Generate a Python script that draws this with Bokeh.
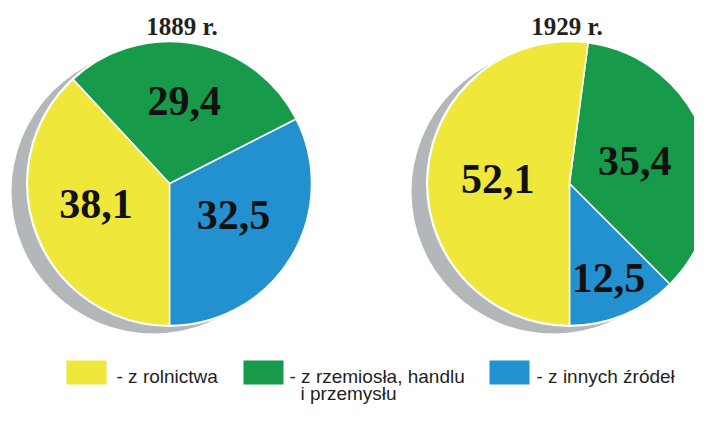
import numpy as np
from bokeh.plotting import figure
from bokeh.models import Range1d, ColumnDataSource
from bokeh.core.properties import value
from bokeh.embed import file_html
from bokeh.resources import INLINE

# ---------------- data ----------------
categories = ["- z rolnictwa", "- z rzemiosła, handlu", "- z innych źródeł"]
category_line2 = ["", "i przemysłu", ""]
colors = ["#EFE83A", "#179B4A", "#2390D0"]
years = ["1889 r.", "1929 r."]
values_1889 = [38.1, 29.4, 32.5]
values_1929 = [52.1, 35.4, 12.5]
label_texts_1889 = ["38,1", "29,4", "32,5"]
label_texts_1929 = ["52,1", "35,4", "12,5"]

# ---------------- layout (pixels of the 710x421 picture) ----------------
W, H = 694, 405
BASELINE_FIX = 7  # svg alphabetic baseline renders ~7px low
def X(px):
    return px
def Y(py):
    return 421 - py

centers = [(169, 183), (569, 183)]
radius = 142
shadow_dx, shadow_dy = -16, 8
label_r = [[79, 84, 75], [72, 69, 102]]
label_dy = [[8, 0, 8], [0, 0, 0]]  # upward nudges (px)
title_x = [181.5, 566.5]
title_baseline = 33

p = figure(width=W, height=H, output_backend="svg", toolbar_location=None,
           x_range=Range1d(0, W), y_range=Range1d(421 - H, 421),
           min_border=0, outline_line_color=None)
p.xaxis.visible = False
p.yaxis.visible = False
p.grid.visible = False
p.background_fill_color = "white"
p.border_fill_color = "white"

all_values = [values_1889, values_1929]
all_labels = [label_texts_1889, label_texts_1929]

for k, (cx, cy) in enumerate(centers):
    vals = all_values[k]
    # shadow
    p.circle(x=[X(cx + shadow_dx)], y=[Y(cy + shadow_dy)], radius=radius,
             fill_color="#B4B7B9", line_color=None)
    # white rim
    p.circle(x=[X(cx)], y=[Y(cy)], radius=radius + 1.5,
             fill_color="white", line_color=None)
    # wedges: anticlockwise from bottom, order blue, green, yellow
    order = [2, 1, 0]
    total = float(sum(vals))
    start = -np.pi / 2
    starts, ends, cols, mids = [], [], [], {}
    for i in order:
        ang = vals[i] / total * 2 * np.pi
        starts.append(start)
        ends.append(start + ang)
        cols.append(colors[i])
        mids[i] = start + ang / 2
        start += ang
    src = ColumnDataSource(dict(x=[X(cx)] * 3, y=[Y(cy)] * 3, s=starts, e=ends, c=cols))
    p.wedge(x="x", y="y", radius=radius, start_angle="s", end_angle="e",
            fill_color="c", line_color="white", line_width=1.5, source=src)
    # labels
    lx, ly = [], []
    for i in range(3):
        r = label_r[k][i]
        lx.append(X(cx) + r * np.cos(mids[i]))
        ly.append(Y(cy) + r * np.sin(mids[i]) + label_dy[k][i])
    p.text(x=lx, y=ly, text=all_labels[k], text_font=value("Liberation Serif"),
           text_font_style="bold", text_font_size="42px", text_color="#111111",
           text_align="center", text_baseline="middle")
    # title
    p.text(x=[title_x[k]], y=[Y(title_baseline - BASELINE_FIX)], text=[years[k]],
           text_font=value("Liberation Serif"), text_font_style="bold",
           text_font_size="25px", text_color="#231F20",
           text_align="center", text_baseline="alphabetic")

# ---------------- legend ----------------
box_left = [66, 243, 489]
text_left = [116, 289, 536]
line2_left = [300, 300, 300]
box_top, box_bottom = 360, 384
text_baseline_y = 383
line2_baseline_y = 400
for i in range(3):
    p.quad(left=[box_left[i]], right=[box_left[i] + 40], top=[Y(box_top)], bottom=[Y(box_bottom)],
           fill_color=colors[i], line_color=None)
    p.text(x=[text_left[i]], y=[Y(text_baseline_y - BASELINE_FIX)], text=[categories[i]],
           text_font=value("Liberation Sans"), text_font_size="19px", text_color="#231F20",
           text_align="left", text_baseline="alphabetic")
    if category_line2[i]:
        p.text(x=[line2_left[i]], y=[Y(line2_baseline_y - BASELINE_FIX)], text=[category_line2[i]],
               text_font=value("Liberation Sans"), text_font_size="19px", text_color="#231F20",
               text_align="left", text_baseline="alphabetic")

open("out.html", "w").write(file_html(p, INLINE))
